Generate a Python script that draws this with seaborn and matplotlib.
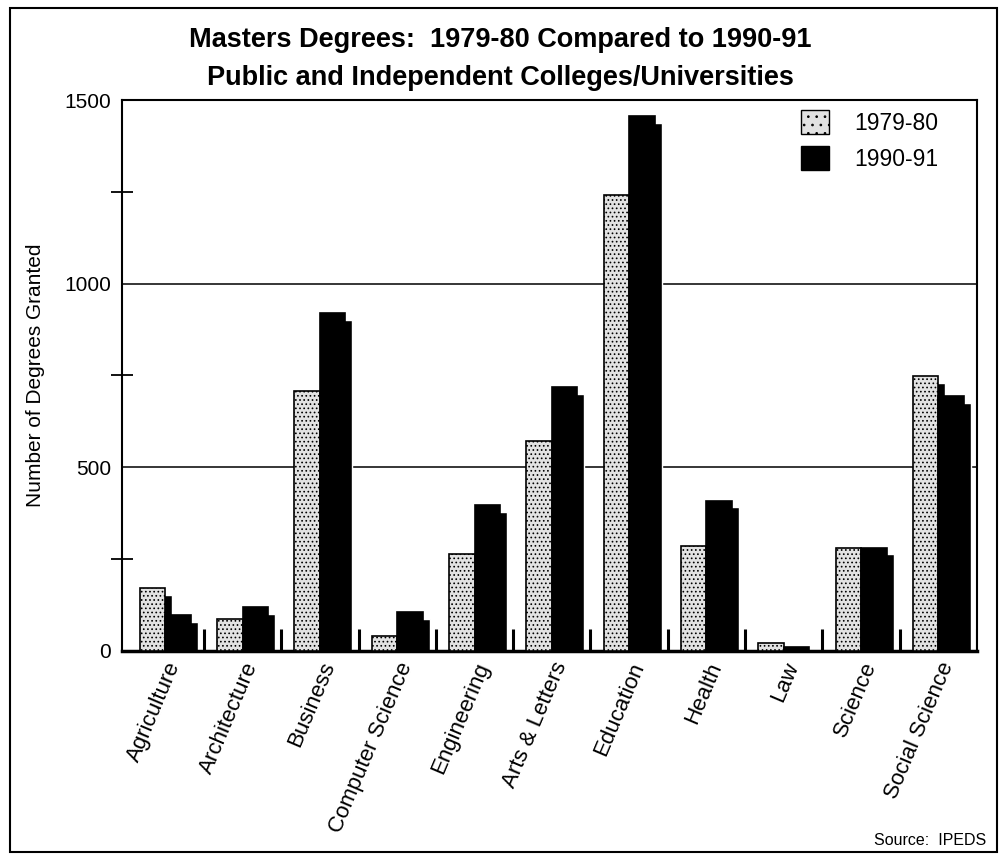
import matplotlib
matplotlib.use("Agg")
import matplotlib.pyplot as plt
import numpy as np
import pandas as pd
import seaborn as sns
from matplotlib.patches import Patch, Rectangle

# %%
fields = ["Agriculture", "Architecture", "Business", "Computer Science", "Engineering",
          "Arts & Letters", "Education", "Health", "Law", "Science", "Social Science"]
years = ["1979-80", "1990-91"]
degrees_1980 = [170, 86, 706, 40, 262, 571, 1242, 285, 21, 281, 748]
degrees_1991 = [96, 118, 920, 104, 396, 717, 1456, 408, 10, 281, 694]

df = pd.DataFrame({
    "Field": fields * 2,
    "Year": [years[0]] * len(fields) + [years[1]] * len(fields),
    "Degrees": degrees_1980 + degrees_1991,
})

# %%
sns.set_theme(style="white")
plt.rcParams["font.family"] = ["Liberation Sans", "DejaVu Sans"]
plt.rcParams["text.color"] = "black"
plt.rcParams["axes.labelcolor"] = "black"
plt.rcParams["xtick.color"] = "black"
plt.rcParams["ytick.color"] = "black"
plt.rcParams["hatch.color"] = "#333333"
plt.rcParams["hatch.linewidth"] = 0.7

fig = plt.figure(figsize=(10, 8.55), dpi=100)
ax = fig.add_axes([0.122, 0.239, 0.855, 0.644])

light = "#e2e2e2"
bw = 0.33
n = len(fields)

# black drop shadows behind each bar
dx, dy = 0.09, 18
for k, vals in enumerate([degrees_1980, degrees_1991]):
    ax.bar(np.arange(n) + (k - 0.5) * bw + dx, np.clip(np.array(vals) - dy, 0, None),
           width=bw, color="black", zorder=2)

sns.barplot(data=df, x="Field", y="Degrees", hue="Year", palette=[light, "black"],
            width=2 * bw, edgecolor="black", linewidth=1.2, saturation=1,
            legend=False, ax=ax, zorder=3)
for bar in ax.containers[-2]:
    bar.set_hatch("....")

ax.axhline(500, color="black", lw=1.1, zorder=1)
ax.axhline(1000, color="black", lw=1.1, zorder=1)
ax.vlines(np.arange(n) + 0.5, 0, 60, color="black", lw=2.2, zorder=4)

ax.set_xlim(-0.56, n - 0.5)
ax.set_ylim(0, 1500)
ax.set_yticks([0, 500, 1000, 1500])
ax.set_yticks([250, 750, 1250], minor=True)
ax.tick_params(axis="y", which="major", length=0, pad=8, labelsize=15)
ax.tick_params(axis="y", which="minor", direction="inout", length=16, width=1.3, left=True)
ax.set_xticks(range(n))
ax.set_xticklabels(fields, rotation=67, ha="right", rotation_mode="anchor", fontsize=16)
ax.tick_params(axis="x", length=0, pad=6)
ax.set_xlabel("")
ax.set_ylabel("Number of Degrees Granted", fontsize=15, labelpad=14)

for s in ax.spines.values():
    s.set_color("black")
    s.set_linewidth(1.5)
ax.spines["bottom"].set_linewidth(2.5)

handles = [Patch(facecolor=light, edgecolor="black", hatch="..", label=years[0]),
           Patch(facecolor="black", edgecolor="black", label=years[1])]
ax.legend(handles=handles, loc="upper right", bbox_to_anchor=(0.96, 0.99), frameon=False,
          fontsize=16.5, handlelength=1.2, handleheight=1.2, handletextpad=1.1,
          labelspacing=0.5, borderaxespad=0, borderpad=0.2)

fig.text(0.5, 1 - 40 / 855, "Masters Degrees:  1979-80 Compared to 1990-91",
         ha="center", va="center", fontsize=19.5, fontweight="bold")
fig.text(0.5, 1 - 78 / 855, "Public and Independent Colleges/Universities",
         ha="center", va="center", fontsize=19.5, fontweight="bold")
fig.text(0.986, 1 - 840 / 855, "Source:  IPEDS", ha="right", va="center", fontsize=11.5)

fig.patches.append(Rectangle((0.01, 0.004), 0.987, 0.987, transform=fig.transFigure,
                             fill=False, edgecolor="black", lw=1.5))

fig.savefig("out.png", dpi=100)
